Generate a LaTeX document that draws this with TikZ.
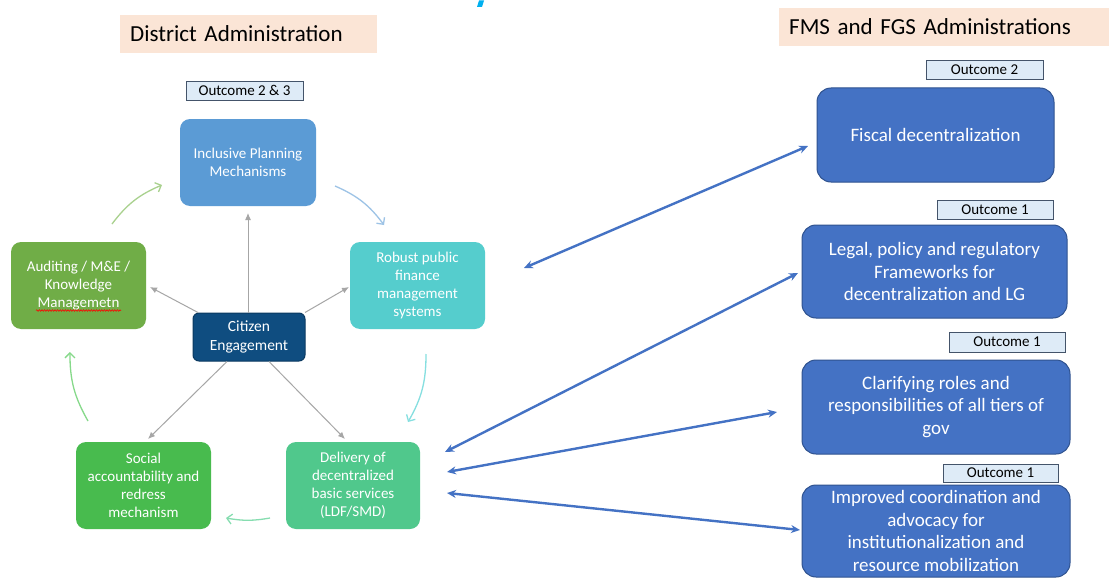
\documentclass[tikz,border=0pt]{standalone}
\usepackage{fontspec}
\setmainfont{Carlito}
\usetikzlibrary{arrows.meta,decorations.pathmorphing}
\definecolor{peach}{HTML}{FBE5D6}
\definecolor{ocfill}{HTML}{DEEBF7}
\definecolor{ocdraw}{HTML}{44546A}
\definecolor{cIP}{HTML}{5B9BD5}
\definecolor{cRB}{HTML}{55CDCD}
\definecolor{cAU}{HTML}{70AD47}
\definecolor{cCE}{HTML}{0F4D80}
\definecolor{cCEd}{HTML}{0B3A61}
\definecolor{cSA}{HTML}{48BB4E}
\definecolor{cDL}{HTML}{50C88C}
\definecolor{cR}{HTML}{4472C4}
\definecolor{cRd}{HTML}{2F528F}
\definecolor{grayarr}{HTML}{A6A6A6}
\definecolor{lgreen}{HTML}{A9D18E}
\definecolor{lblue}{HTML}{9DC3E6}
\definecolor{lcyan}{HTML}{86DFE0}
\definecolor{lmint}{HTML}{86DDB0}
\definecolor{lgreenb}{HTML}{86D98A}
\definecolor{topblue}{HTML}{00B0F0}
\tikzset{
  header/.style={fill=peach, minimum height=38, inner xsep=10, align=left, anchor=west,
    font=\fontsize{23}{27}\selectfont, text=black},
  outc/.style={fill=ocfill, draw=ocdraw, line width=0.9, inner sep=0, minimum height=19,
    font=\fontsize{15}{17}\selectfont, text=black},
  lbox/.style={rounded corners=10, minimum width=135, minimum height=87, align=center,
    text=white, inner sep=2, font=\fontsize{15}{17.8}\selectfont},
  rbox/.style={rounded corners=14, draw=cRd, line width=1, fill=cR, align=center,
    text=white, inner sep=2, font=\fontsize{19}{22.8}\selectfont},
  bluearr/.style={cR, line width=2.4, {Stealth[length=9,width=8]}-{Stealth[length=9,width=8]}},
  grayline/.style={grayarr, line width=1, -{Latex[length=7,width=6]}},
  cyc/.style={line width=1.3, -{Straight Barb[length=5,width=10]}, bend left=15},
}
\begin{document}
\begin{tikzpicture}[x=1pt,y=-1pt]
\useasboundingbox (0,0) rectangle (1109,578);
\fill[white] (0,0) rectangle (1109,578);

% fragment at top
\fill[topblue] (479,0.5) -- (484,0.5) -- (482,7) -- (477,7) -- cycle;

% headers
\node[header, minimum width=257, text width=237] (da) at (120,34) {District Administration};
\node[header, minimum width=330, text width=310] (fms) at (779,27) {FMS and FGS Administrations};

% outcome labels
\node[outc, minimum width=117] (oc23) at (244.5,90.5) {Outcome 2 \& 3};
\node[outc, minimum width=117] (oc2) at (984.5,69.5) {Outcome 2};
\node[outc, minimum width=116] (oc1a) at (995,209.5) {Outcome 1};
\node[outc, minimum width=116, minimum height=20] (oc1b) at (1007,342) {Outcome 1};
\node[outc, minimum width=115, minimum height=18] (oc1c) at (1000.5,473) {Outcome 1};

% left boxes
\node[lbox, fill=cIP, minimum width=136] (ip) at (248,162.5) {Inclusive Planning\\Mechanisms};
\node[lbox, fill=cRB] (rb) at (417.5,285.5) {Robust public\\finance\\management\\systems};
\node[lbox, fill=cAU] (au) at (78.5,285.5) {Auditing / M\&E /\\Knowledge\\Managemetn};
\node[lbox, fill=cSA] (sa) at (143.5,485.5) {Social\\accountability and\\redress\\mechanism};
\node[lbox, fill=cDL, minimum width=134] (dl) at (353,485.5) {Delivery of\\decentralized\\basic services\\(LDF/SMD)};
\node[rounded corners=6, fill=cCE, draw=cCEd, line width=1, minimum width=112, minimum height=48,
  align=center, text=white, inner sep=2, font=\fontsize{15.5}{19}\selectfont] (ce) at (249,337) {Citizen\\Engagement};

% spell-check underline
\draw[red, line width=0.6, decorate, decoration={snake, amplitude=0.8, segment length=2.6}] (36,310.5) -- (121,310.5);

% right boxes
\node[rbox, minimum width=237, minimum height=94] (fd) at (935.5,135) {Fiscal decentralization};
\node[rbox, minimum width=265, minimum height=93] (lg) at (934.5,271.5) {Legal, policy and regulatory\\Frameworks for\\decentralization and LG};
\node[rbox, minimum width=268, minimum height=94] (cl) at (936,407) {Clarifying roles and\\responsibilities of all tiers of\\gov};
\node[rbox, minimum width=268, minimum height=92] (im) at (936,531) {Improved coordination and\\advocacy for\\institutionalization and\\resource mobilization};

% gray arrows from citizen engagement
\coordinate (g1) at (248,213);
\coordinate (g2) at (150,287);
\coordinate (g3) at (349,287);
\coordinate (g4) at (148,439);
\coordinate (g5) at (345,439);
\draw[grayline] (ce.north -| g1) -- (g1);
\draw[grayline] ([xshift=-51]ce.north) -- (g2);
\draw[grayline] ([xshift=56]ce.north) -- (g3);
\draw[grayline] ([xshift=-22]ce.south) -- (g4);
\draw[grayline] ([xshift=20]ce.south) -- (g5);

% cycle arrows
\coordinate (c1s) at (112,224); \coordinate (c1e) at (162,185);
\coordinate (c2s) at (335,186); \coordinate (c2e) at (384,225);
\coordinate (c3s) at (426,354); \coordinate (c3e) at (408,422);
\coordinate (c4s) at (270,518); \coordinate (c4e) at (226,518);
\coordinate (c5s) at (88,421);  \coordinate (c5e) at (70,352);
\draw[cyc, lgreen] (c1s) to (c1e);
\draw[cyc, lblue] (c2s) to (c2e);
\draw[cyc, lcyan] (c3s) to (c3e);
\draw[cyc, lmint, bend left=10] (c4s) to (c4e);
\draw[cyc, lgreenb] (c5s) to (c5e);

% blue double arrows
\coordinate (b1a) at (524,268); \coordinate (b1b) at (808,146);
\coordinate (b2a) at (445,452); \coordinate (b2b) at (798,273);
\coordinate (b3a) at (447,472); \coordinate (b3b) at (777,412);
\coordinate (b4a) at (447,493); \coordinate (b4b) at (800,530);
\draw[bluearr] (b1a) -- (b1b);
\draw[bluearr] (b2a) -- (b2b);
\draw[bluearr] (b3a) -- (b3b);
\draw[bluearr] (b4a) -- (b4b);
\end{tikzpicture}
\end{document}
